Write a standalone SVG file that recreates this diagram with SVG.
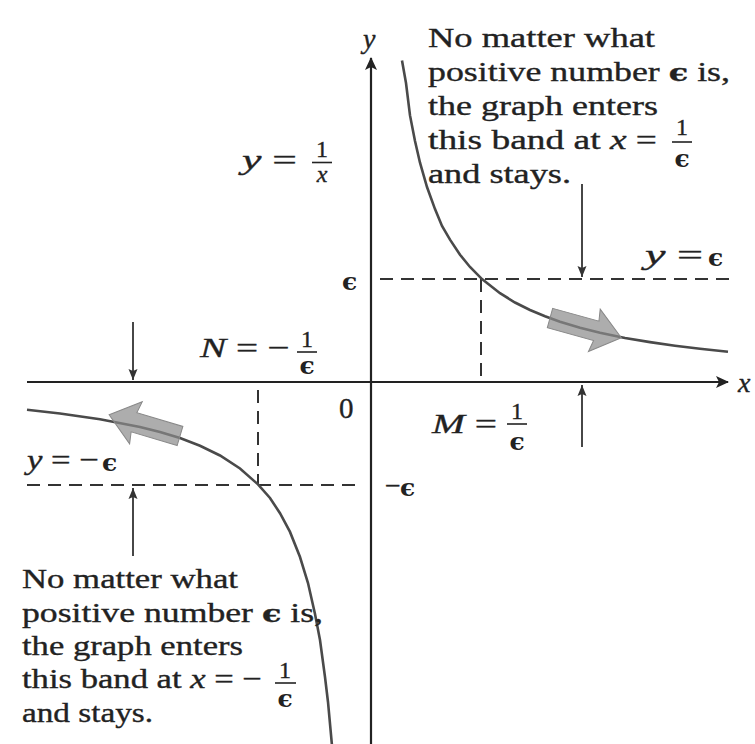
<svg xmlns="http://www.w3.org/2000/svg" width="755" height="744" viewBox="0 0 755 744">
<style>
.t{font-family:"Liberation Serif","Times New Roman",serif;font-size:28px;fill:#222;stroke:#222;stroke-width:0.35}
.f{font-size:24px}
.i{font-style:italic}
.e{font-family:"DejaVu Serif","Liberation Serif",serif;font-weight:bold;font-size:25px;fill:#222}
.ax{stroke:#222;stroke-width:2.2;fill:none}
.dash{stroke:#333;stroke-width:2;stroke-dasharray:13 8;fill:none}
.crv{stroke:#4a4a4a;stroke-width:2.6;fill:none}
.ann{stroke:#333;stroke-width:1.8;fill:none}
.bar{stroke:#222;stroke-width:1.6}
.shade{fill:#8a8a8a;fill-opacity:0.7;stroke:#888;stroke-width:1}
</style>
<defs>
<marker id="axh" markerWidth="14" markerHeight="12" refX="12" refY="6" orient="auto" markerUnits="userSpaceOnUse">
<path d="M0,0 L13,6 L0,12 L3,6 Z" fill="#222"/>
</marker>
<marker id="ah" markerWidth="12" markerHeight="10" refX="11" refY="5" orient="auto" markerUnits="userSpaceOnUse">
<path d="M0,0.5 L11,5 L0,9.5 L2,5 Z" fill="#333"/>
</marker>
</defs>
<rect width="755" height="744" fill="#fff"/>

<g id="axes">
<line class="ax" x1="27" y1="382" x2="728" y2="382" marker-end="url(#axh)"/>
<line class="ax" x1="371" y1="744" x2="371" y2="58" marker-end="url(#axh)"/>
<text class="t i" x="738" y="392">x</text>
<text class="t i" x="363" y="48">y</text>
<text class="t" x="339" y="418" style="font-size:29px">0</text>
</g>

<g id="bands">
<line class="dash" x1="380" y1="279" x2="730" y2="279"/>
<line class="dash" x1="481" y1="279" x2="481" y2="382"/>
<line class="dash" x1="27" y1="485" x2="362" y2="485"/>
<line class="dash" x1="258" y1="390" x2="258" y2="485"/>
</g>

<g id="curve">
<path class="crv" d="M402,60.4 L406,83 L410,115.4 L415,141 L420,162.7 L427,187 L435,209.1 L442,226 L450,239.6 L460,254.7 L470,267 L482,279.1 L500,293.2 L515,302.5 L530,310 L545,316.3 L560,321.7 L580,327.7 L600,332.7 L625,338 L650,342.1 L675,345.7 L700,348.8 L728,351.7"/>
<path class="crv" d="M27,409.8 L60,413.5 L100,419.2 L140,427 L160,432 L180,438.1 L200,445.8 L220,455.5 L240,468.5 L258,484.4 L270,498 L280,513.2 L290,531.9 L300,557 L308,583 L315,613.9 L320,640 L325,677 L328,702 L332,745.7"/>
</g>

<g id="shaded-arrows">
<path class="shade" transform="translate(550,318) rotate(15.5)" d="M0,-10 L48,-10 L46,-22 L74,0 L46,22 L48,10 L0,10 Z"/>
<path class="shade" transform="translate(180,436) rotate(196.7)" d="M0,-10 L48,-10 L46,-22 L74,0 L46,22 L48,10 L0,10 Z"/>
</g>

<g id="connectors">
<line class="ann" x1="582" y1="184" x2="582" y2="277" marker-end="url(#ah)"/>
<line class="ann" x1="582" y1="447" x2="582" y2="385" marker-end="url(#ah)"/>
<line class="ann" x1="133" y1="322" x2="133" y2="380" marker-end="url(#ah)"/>
<line class="ann" x1="133" y1="556" x2="133" y2="488" marker-end="url(#ah)"/>
</g>

<g id="label-y-inv-x">
<text class="t" x="242" y="169" textLength="55" lengthAdjust="spacingAndGlyphs"><tspan class="i">y</tspan> =</text>
<text class="t f" x="322" y="157" text-anchor="middle">1</text>
<line class="bar" x1="312" y1="162.5" x2="332" y2="162.5"/>
<text class="t f i" x="322" y="182" text-anchor="middle">x</text>
</g>

<g id="label-eps">
<text class="e" x="342" y="290">ϵ</text>
<text class="t" x="645" y="264" textLength="58" lengthAdjust="spacingAndGlyphs"><tspan class="i">y</tspan> =</text>
<text class="e" x="708" y="266">ϵ</text>
</g>

<g id="label-neg-eps">
<text class="t" x="385" y="495">−</text>
<text class="e" x="400" y="496">ϵ</text>
<text class="t" x="27" y="469" textLength="72" lengthAdjust="spacingAndGlyphs"><tspan class="i">y</tspan> = −</text>
<text class="e" x="102" y="471">ϵ</text>
</g>

<g id="label-N">
<text class="t" x="200" y="357" textLength="90" lengthAdjust="spacingAndGlyphs"><tspan class="i">N</tspan> = −</text>
<text class="t f" x="307" y="347" text-anchor="middle">1</text>
<line class="bar" x1="297" y1="352" x2="317" y2="352"/>
<text class="e" x="307" y="374" text-anchor="middle">ϵ</text>
</g>

<g id="label-M">
<text class="t" x="432" y="433" textLength="65" lengthAdjust="spacingAndGlyphs"><tspan class="i">M</tspan> =</text>
<text class="t f" x="517" y="419" text-anchor="middle">1</text>
<line class="bar" x1="507" y1="424" x2="527" y2="424"/>
<text class="e" x="517" y="450" text-anchor="middle">ϵ</text>
</g>

<g id="note-right">
<text class="t" x="428" y="47" textLength="227" lengthAdjust="spacingAndGlyphs">No matter what</text>
<text class="t" x="428" y="81" textLength="302" lengthAdjust="spacingAndGlyphs">positive number <tspan font-family="DejaVu Serif" font-weight="bold" font-size="25">ϵ</tspan> is,</text>
<text class="t" x="428" y="115" textLength="230" lengthAdjust="spacingAndGlyphs">the graph enters</text>
<text class="t" x="428" y="149" textLength="229" lengthAdjust="spacingAndGlyphs">this band at <tspan class="i">x</tspan> =</text>
<text class="t f" x="682" y="135" text-anchor="middle">1</text>
<line class="bar" x1="672" y1="142" x2="692" y2="142"/>
<text class="e" x="682" y="167" text-anchor="middle">ϵ</text>
<text class="t" x="428" y="183" textLength="143" lengthAdjust="spacingAndGlyphs">and stays.</text>
</g>

<g id="note-left">
<text class="t" x="22" y="588" textLength="216" lengthAdjust="spacingAndGlyphs">No matter what</text>
<text class="t" x="22" y="622" textLength="301" lengthAdjust="spacingAndGlyphs">positive number <tspan font-family="DejaVu Serif" font-weight="bold" font-size="25">ϵ</tspan> is,</text>
<text class="t" x="22" y="655" textLength="221" lengthAdjust="spacingAndGlyphs">the graph enters</text>
<text class="t" x="22" y="688" textLength="240" lengthAdjust="spacingAndGlyphs">this band at <tspan class="i">x</tspan> = −</text>
<text class="t f" x="285" y="678" text-anchor="middle">1</text>
<line class="bar" x1="275" y1="683" x2="296" y2="683"/>
<text class="e" x="285" y="707" text-anchor="middle">ϵ</text>
<text class="t" x="22" y="722" textLength="131" lengthAdjust="spacingAndGlyphs">and stays.</text>
</g>
</svg>
